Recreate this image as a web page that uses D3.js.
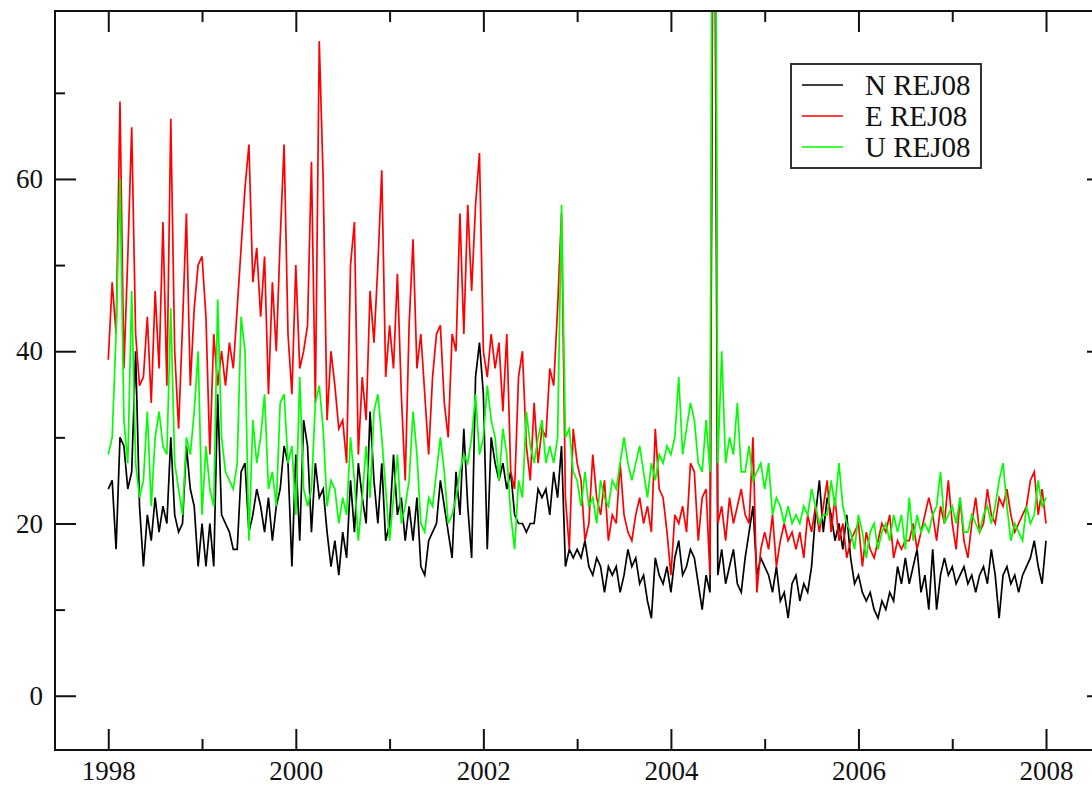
<!DOCTYPE html>
<html>
<head>
<meta charset="utf-8">
<script src="https://cdn.jsdelivr.net/npm/d3@7"></script>
<style>
  body { margin: 0; background: #fff; }
  text { font-family: "Liberation Serif", "Times New Roman", serif; }
</style>
</head>
<body>
<div id="viz"></div>
<script>
// half-monthly samples, first one at 1998.0
var startYear = 1998,
    perYear = 24;

var north = [
  24,25,17,30,29,24,26,40,22,15,21,18,23,19,22,20,30,21,19,20,29,24,22,15,
  20,15,20,15,35,21,20,19,17,17,26,27,19,21,24,22,19,23,18,22,24,29,27,15,
  28,18,32,29,19,27,23,24,19,15,18,14,19,16,25,19,27,23,20,33,25,20,27,18,
  20,28,21,23,18,22,18,23,15,14,18,19,20,25,22,19,16,26,21,31,22,16,37,41,
  35,17,30,27,25,27,24,26,21,20,20,19,20,20,24,23,24,21,26,23,29,15,17,16,
  17,16,18,15,14,16,15,12,15,14,15,12,14,17,15,16,13,14,11,9,16,14,13,15,
  12,16,18,14,15,17,16,13,10,14,12,120,14,17,13,15,17,13,12,16,19,22,14,16,
  15,14,12,15,11,12,9,13,14,11,13,12,15,21,25,19,23,21,18,20,17,21,16,13,
  14,12,11,12,10,9,11,10,12,11,15,13,16,13,15,17,12,14,10,17,10,14,16,14,
  15,13,14,15,13,14,12,14,15,13,17,14,9,14,15,13,14,12,14,15,16,18,15,13,
  18
];

var east = [
  39,48,42,69,38,51,66,42,36,37,44,34,47,38,55,36,67,40,31,43,56,36,45,50,
  51,44,28,42,36,40,36,41,38,45,52,59,64,48,52,44,51,35,48,40,53,64,42,35,
  50,38,40,43,62,34,76,60,32,40,36,31,32,27,50,55,28,37,32,47,41,50,61,37,
  43,38,49,35,25,43,53,38,42,35,28,37,42,43,34,30,42,40,56,42,57,47,57,63,
  40,37,42,38,41,33,42,26,24,37,40,29,25,34,27,31,30,38,36,45,56,23,17,31,
  27,25,18,20,28,23,21,25,18,21,20,27,21,19,18,21,23,20,22,19,31,24,23,19,
  14,21,20,22,19,27,26,18,23,24,14,140,20,22,18,23,20,22,24,21,20,30,12,17,
  19,17,21,15,18,20,18,19,17,19,16,21,19,22,19,22,25,19,23,18,20,16,18,19,
  20,15,19,17,16,18,20,19,21,16,18,17,18,18,20,17,19,21,23,21,18,22,20,25,
  20,17,23,18,16,20,23,19,20,24,21,20,23,22,24,21,19,20,21,22,25,26,21,24,
  20
];

var up = [
  28,30,42,60,32,27,47,27,23,25,33,22,30,33,29,28,45,27,24,21,30,28,33,40,
  21,29,24,22,46,30,26,25,24,27,44,40,18,32,27,30,35,24,26,22,34,35,27,29,
  21,37,24,22,24,34,36,31,22,25,24,20,23,21,30,25,18,23,29,23,33,35,30,24,
  18,23,28,20,22,25,33,28,20,19,23,22,26,30,26,20,21,23,26,28,27,30,35,28,
  30,36,32,30,25,31,28,21,17,25,23,33,29,27,30,32,27,29,27,30,57,30,31,26,
  25,22,26,22,23,20,25,23,22,25,24,27,30,27,25,27,29,26,23,27,25,28,27,29,
  28,30,37,28,31,34,32,27,26,32,26,150,27,40,27,30,28,34,26,26,29,25,26,27,
  24,27,21,23,22,20,22,20,21,20,22,21,24,22,20,21,21,25,22,27,22,20,19,17,
  21,19,16,19,20,17,19,20,18,21,19,21,17,23,18,21,19,20,19,21,22,26,20,21,
  22,20,23,19,19,21,20,19,21,22,20,22,25,27,22,18,20,19,18,22,20,21,25,22,
  23
];

var seriesNames = ["N REJ08", "E REJ08", "U REJ08"],
    seriesColors = ["#000000", "#ff0000", "#00ff00"];

var xMajor = [1998, 2000, 2002, 2004, 2006, 2008],
    xMinor = [1999, 2001, 2003, 2005, 2007],
    yMajor = [0, 20, 40, 60],
    yMinor = [10, 30, 50, 70];

var W = 1092, H = 786,
    plotLeft = 55, plotRight = 1108, plotTop = 11, plotBottom = 750;

var xScale = d3.scaleLinear()
  .domain([1997.432, 2008.661])
  .range([plotLeft, plotRight]);

var yScale = d3.scaleLinear()
  .domain([-6.3, 79.5])
  .range([plotBottom, plotTop]);

var svg = d3.select('#viz').append('svg')
  .attr('width', W)
  .attr('height', H)
  .style('display', 'block');

svg.append('defs').append('clipPath')
  .attr('id', 'plotclip')
  .append('rect')
  .attr('x', plotLeft).attr('y', plotTop)
  .attr('width', plotRight - plotLeft).attr('height', plotBottom - plotTop);

// data lines
var line = d3.line()
  .x(function(d, i) { return xScale(startYear + i / perYear); })
  .y(function(d) { return yScale(d); });

var plot = svg.append('g').attr('clip-path', 'url(#plotclip)');
[north, east, up].forEach(function(s, k) {
  plot.append('path')
    .datum(s)
    .attr('fill', 'none')
    .attr('stroke', seriesColors[k])
    .attr('stroke-width', 1.7)
    .attr('d', line);
});

// axes, ticks pointing into the frame
function styleAxis(g) {
  g.select('.domain').remove();
  g.selectAll('.tick line').attr('stroke', '#111').attr('stroke-width', 2);
  g.selectAll('.tick text').attr('fill', '#111');
}

svg.append('g')
  .attr('transform', 'translate(0,' + plotBottom + ')')
  .call(d3.axisBottom(xScale).tickValues(xMajor).tickSizeInner(-21).tickSizeOuter(0)
    .tickPadding(11).tickFormat(d3.format('d')))
  .call(styleAxis)
  .selectAll('text').style('font-size', '27px');

svg.append('g')
  .attr('transform', 'translate(0,' + plotBottom + ')')
  .call(d3.axisBottom(xScale).tickValues(xMinor).tickSizeInner(-11).tickSizeOuter(0).tickFormat(''))
  .call(styleAxis);

svg.append('g')
  .attr('transform', 'translate(0,' + plotTop + ')')
  .call(d3.axisTop(xScale).tickValues(xMajor).tickSizeInner(-21).tickSizeOuter(0).tickFormat(''))
  .call(styleAxis);

svg.append('g')
  .attr('transform', 'translate(0,' + plotTop + ')')
  .call(d3.axisTop(xScale).tickValues(xMinor).tickSizeInner(-11).tickSizeOuter(0).tickFormat(''))
  .call(styleAxis);

svg.append('g')
  .attr('transform', 'translate(' + plotLeft + ',0)')
  .call(d3.axisLeft(yScale).tickValues(yMajor).tickSizeInner(-21).tickSizeOuter(0)
    .tickPadding(12).tickFormat(d3.format('d')))
  .call(styleAxis)
  .selectAll('text').style('font-size', '27px');

svg.append('g')
  .attr('transform', 'translate(' + plotLeft + ',0)')
  .call(d3.axisLeft(yScale).tickValues(yMinor).tickSizeInner(-10).tickSizeOuter(0).tickFormat(''))
  .call(styleAxis);

svg.append('g')
  .attr('transform', 'translate(' + plotRight + ',0)')
  .call(d3.axisRight(yScale).tickValues(yMajor).tickSizeInner(-21).tickSizeOuter(0).tickFormat(''))
  .call(styleAxis);

svg.append('g')
  .attr('transform', 'translate(' + plotRight + ',0)')
  .call(d3.axisRight(yScale).tickValues(yMinor).tickSizeInner(-10).tickSizeOuter(0).tickFormat(''))
  .call(styleAxis);

// frame
svg.append('rect')
  .attr('x', plotLeft).attr('y', plotTop)
  .attr('width', plotRight - plotLeft).attr('height', plotBottom - plotTop)
  .attr('fill', 'none')
  .attr('stroke', '#111')
  .attr('stroke-width', 2);

// legend
var legend = svg.append('g').attr('transform', 'translate(791,64)');
legend.append('rect')
  .attr('width', 190).attr('height', 104)
  .attr('fill', '#fff')
  .attr('stroke', '#333')
  .attr('stroke-width', 2);

var item = legend.selectAll('g.item').data(seriesNames)
  .enter().append('g')
  .attr('class', 'item')
  .attr('transform', function(d, i) { return 'translate(0,' + (21 + i * 31) + ')'; });

item.append('line')
  .attr('x1', 11).attr('x2', 52)
  .attr('stroke', function(d, i) { return seriesColors[i]; })
  .attr('stroke-width', 1.7);

item.append('text')
  .attr('x', 74)
  .attr('y', 10)
  .style('font-size', '29px')
  .attr('fill', '#111')
  .text(function(d) { return d; });
</script>
</body>
</html>
